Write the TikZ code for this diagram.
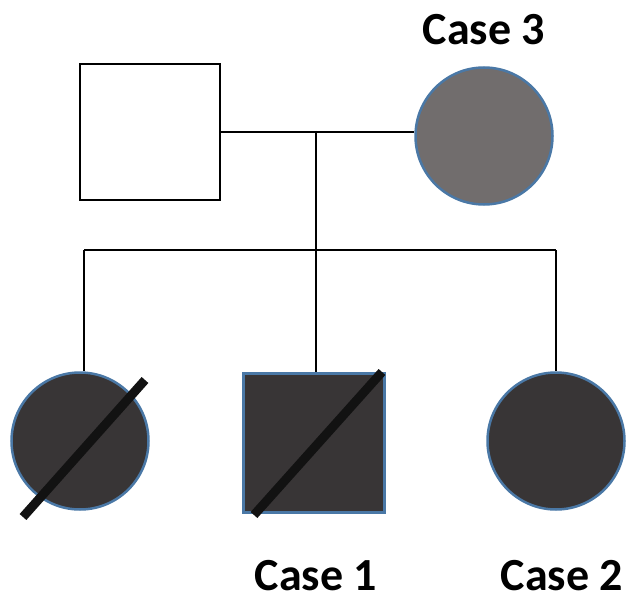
\documentclass[tikz,border=0pt]{standalone}
\usepackage{fontspec}
\setmainfont{Carlito}
\begin{document}
\begin{tikzpicture}[x=1pt,y=-1pt,
  line/.style={line width=2.8pt,black},
  male/.style={draw,rectangle,minimum width=140pt,minimum height=136pt,inner sep=0pt},
  female/.style={draw,circle,minimum size=137pt,inner sep=0pt},
  outl/.style={draw=blueout,line width=2.5pt},
  slash/.style={line width=9pt,black!93},
  lab/.style={font=\fontsize{46}{48}\selectfont\bfseries,inner sep=0pt}]
\definecolor{blueout}{HTML}{4A78A6}
\definecolor{grayfill}{HTML}{716D6D}
\definecolor{darkfill}{HTML}{383536}
\useasboundingbox (0,0) rectangle (631,596);
\node[male,line width=2.5pt,fill=white] (father) at (150,132) {};
\node[female,outl,fill=grayfill] (mother) at (484,136) {};
\coordinate (mid) at (316,131);
\coordinate (sib) at (316,250);
\coordinate (sl) at (84,250);
\coordinate (sr) at (556,250);
\node[female,outl,fill=darkfill] (c1) at (80,441) {};
\node[male,outl,fill=darkfill,minimum width=141pt,minimum height=139pt] (c2) at (314,443) {};
\node[female,outl,fill=darkfill] (c3) at (556,441) {};
\draw[line] (father.east) -- (father.east -| mother.west);
\draw[line] (mid) -- (sib);
\draw[line] (sl) -- (sr);
\draw[line] (sl) -- (sl |- c1.north);
\draw[line] (sib) -- (sib |- c2.north);
\draw[line] (sr) -- (c3.north);
\coordinate (s1a) at (23,517);
\coordinate (s1b) at (145,380);
\coordinate (s2a) at (254,515);
\coordinate (s2b) at (382,372);
\draw[slash] (s1a) -- (s1b);
\draw[slash] (s2a) -- (s2b);
\node[lab] (l3) at (484,30) {Case 3};
\node[lab] (l1) at (316,576) {Case 1};
\node[lab] (l2) at (562,576) {Case 2};
\end{tikzpicture}
\end{document}
